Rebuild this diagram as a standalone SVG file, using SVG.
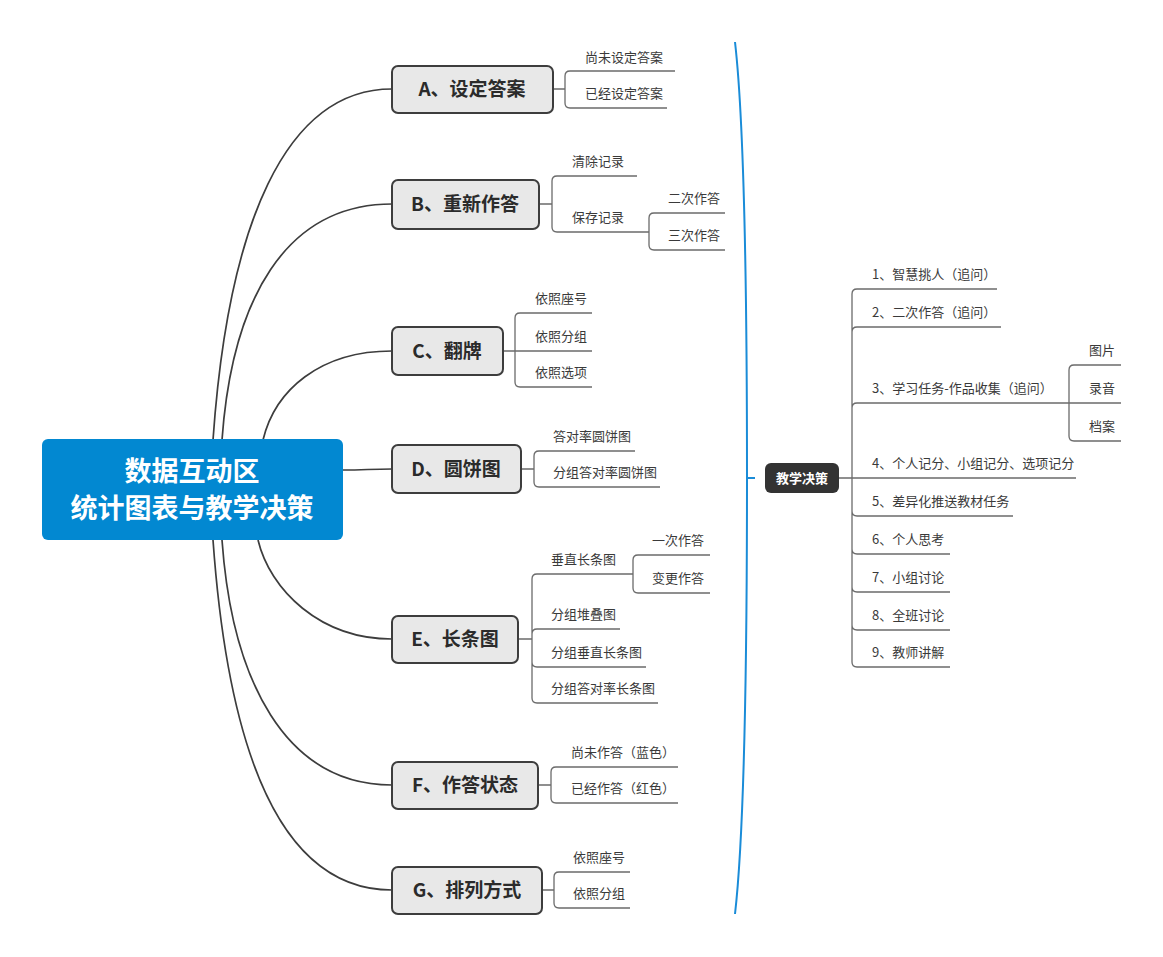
<svg xmlns="http://www.w3.org/2000/svg" width="1163" height="957" viewBox="0 0 1163 957">
<style>
.bg{fill:#ffffff}
.main{fill:none;stroke:#3d3d3d;stroke-width:1.7}
.sub{fill:none;stroke:#6b6b6b;stroke-width:1.3}
.node rect{fill:#e8e8e8;stroke:#3d3d3d;stroke-width:2}
.node text{font-family:"Noto Sans CJK SC","Noto Sans",sans-serif;font-size:19px;font-weight:bold;fill:#2b2b2b;text-anchor:middle}
.leaf{font-family:"Noto Sans CJK SC","Noto Sans",sans-serif;font-size:13px;fill:#3a3a3a}
.root text{font-family:"Noto Sans CJK SC","Noto Sans",sans-serif;font-size:27px;font-weight:bold;fill:#ffffff;text-anchor:middle}
.brace{fill:none;stroke:#1a8cd8;stroke-width:2}
</style>
<rect class="bg" x="0" y="0" width="1163" height="957"/>

<g id="connectors">
  <!-- root to branches -->
  <path class="main" d="M213 440 C228 225 285 89 392 89"/>
  <path class="main" d="M222 440 C232 300 285 204 392 204"/>
  <path class="main" d="M263 440 C275 390 320 351 392 351"/>
  <path class="main" d="M343 470 C365 470 370 469 392 469"/>
  <path class="main" d="M258 540 C270 590 320 639 392 639"/>
  <path class="main" d="M222 540 C232 680 285 785 392 785"/>
  <path class="main" d="M213 540 C228 750 280 890 392 890"/>
  <!-- A -->
  <path class="sub" d="M553 89 H565 M565 89 V76 Q565 71 570 71 H675 M565 89 V103 Q565 108 570 108 H667"/>
  <!-- B -->
  <path class="sub" d="M539 204 H552 M552 204 V181 Q552 176 557 176 H637 M552 204 V227 Q552 232 557 232 H649"/>
  <path class="sub" d="M649 232 V218 Q649 213 654 213 H725 M649 232 V245 Q649 250 654 250 H725"/>
  <!-- C -->
  <path class="sub" d="M503 351 H592 M515 351 V318 Q515 313 520 313 H592 M515 351 V382 Q515 387 520 387 H592"/>
  <!-- D -->
  <path class="sub" d="M521 469 H534 M534 469 V456 Q534 451 539 451 H635 M534 469 V482 Q534 487 539 487 H660"/>
  <!-- E -->
  <path class="sub" d="M518 639 H532 M532 639 V579 Q532 574 537 574 H633 M532 639 V634 Q532 629 537 629 H620 M532 639 V662 Q532 667 537 667 H646 M532 639 V698 Q532 703 537 703 H658"/>
  <path class="sub" d="M633 574 V560 Q633 555 638 555 H710 M633 574 V588 Q633 593 638 593 H710"/>
  <!-- F -->
  <path class="sub" d="M538 785 H551 M551 785 V772 Q551 767 556 767 H678 M551 785 V798 Q551 803 556 803 H678"/>
  <!-- G -->
  <path class="sub" d="M542 890 H554 M554 890 V877 Q554 872 559 872 H630 M554 890 V903 Q554 908 559 908 H630"/>
  <!-- brace -->
  <path class="brace" d="M735 42 C744 120 747 300 747 478 C747 656 744 836 735 914 M747 478 H755"/>
  <!-- right side -->
  <path class="sub" d="M839 478 H1076 M852 478 V294 Q852 289 857 289 H997 M852 478 V332 Q852 327 857 327 H1001 M852 478 V408 Q852 403 857 403 H1069 M852 478 V511 Q852 516 857 516 H1013 M852 478 V549 Q852 554 857 554 H950 M852 478 V587 Q852 592 857 592 H950 M852 478 V625 Q852 630 857 630 H950 M852 478 V662 Q852 667 857 667 H950"/>
  <path class="sub" d="M1069 403 H1121 M1069 403 V370 Q1069 365 1074 365 H1121 M1069 403 V436 Q1069 441 1074 441 H1121"/>
</g>

<g id="root" class="root">
  <rect x="42" y="439" width="301" height="101" rx="6" fill="#0288d1"/>
  <text x="192" y="481">数据互动区</text>
  <text x="192" y="518">统计图表与教学决策</text>
</g>

<g id="nodeA" class="node">
  <rect x="392" y="66" width="161" height="47" rx="6"/>
  <text x="472" y="96">A、设定答案</text>
</g>
<g id="nodeA-children">
  <text class="leaf" x="585" y="62">尚未设定答案</text>
  <text class="leaf" x="585" y="98">已经设定答案</text>
</g>

<g id="nodeB" class="node">
  <rect x="392" y="180" width="147" height="49" rx="6"/>
  <text x="465" y="211">B、重新作答</text>
</g>
<g id="nodeB-children">
  <text class="leaf" x="572" y="166">清除记录</text>
  <text class="leaf" x="572" y="222">保存记录</text>
  <text class="leaf" x="668" y="203">二次作答</text>
  <text class="leaf" x="668" y="240">三次作答</text>
</g>

<g id="nodeC" class="node">
  <rect x="392" y="327" width="111" height="48" rx="6"/>
  <text x="447" y="358">C、翻牌</text>
</g>
<g id="nodeC-children">
  <text class="leaf" x="535" y="303">依照座号</text>
  <text class="leaf" x="535" y="341">依照分组</text>
  <text class="leaf" x="535" y="377">依照选项</text>
</g>

<g id="nodeD" class="node">
  <rect x="392" y="445" width="129" height="48" rx="6"/>
  <text x="456" y="476">D、圆饼图</text>
</g>
<g id="nodeD-children">
  <text class="leaf" x="553" y="441">答对率圆饼图</text>
  <text class="leaf" x="553" y="477">分组答对率圆饼图</text>
</g>

<g id="nodeE" class="node">
  <rect x="392" y="616" width="126" height="47" rx="6"/>
  <text x="455" y="646">E、长条图</text>
</g>
<g id="nodeE-children">
  <text class="leaf" x="551" y="564">垂直长条图</text>
  <text class="leaf" x="652" y="545">一次作答</text>
  <text class="leaf" x="652" y="583">变更作答</text>
  <text class="leaf" x="551" y="619">分组堆叠图</text>
  <text class="leaf" x="551" y="657">分组垂直长条图</text>
  <text class="leaf" x="551" y="693">分组答对率长条图</text>
</g>

<g id="nodeF" class="node">
  <rect x="392" y="762" width="146" height="47" rx="6"/>
  <text x="465" y="792">F、作答状态</text>
</g>
<g id="nodeF-children">
  <text class="leaf" x="571" y="757">尚未作答（蓝色）</text>
  <text class="leaf" x="571" y="793">已经作答（红色）</text>
</g>

<g id="nodeG" class="node">
  <rect x="392" y="867" width="150" height="47" rx="6"/>
  <text x="467" y="897">G、排列方式</text>
</g>
<g id="nodeG-children">
  <text class="leaf" x="573" y="862">依照座号</text>
  <text class="leaf" x="573" y="898">依照分组</text>
</g>

<g id="decision">
  <rect x="765" y="463" width="74" height="30" rx="6" fill="#333333"/>
  <text x="802" y="483" text-anchor="middle" font-family="Noto Sans CJK SC, Noto Sans, sans-serif" font-size="13" font-weight="bold" fill="#ffffff">教学决策</text>
</g>
<g id="decision-children">
  <text class="leaf" x="872" y="279">1、智慧挑人（追问）</text>
  <text class="leaf" x="872" y="317">2、二次作答（追问）</text>
  <text class="leaf" x="872" y="393">3、学习任务-作品收集（追问）</text>
  <text class="leaf" x="1089" y="355">图片</text>
  <text class="leaf" x="1089" y="393">录音</text>
  <text class="leaf" x="1089" y="431">档案</text>
  <text class="leaf" x="872" y="468">4、个人记分、小组记分、选项记分</text>
  <text class="leaf" x="872" y="506">5、差异化推送教材任务</text>
  <text class="leaf" x="872" y="544">6、个人思考</text>
  <text class="leaf" x="872" y="582">7、小组讨论</text>
  <text class="leaf" x="872" y="620">8、全班讨论</text>
  <text class="leaf" x="872" y="657">9、教师讲解</text>
</g>
</svg>
